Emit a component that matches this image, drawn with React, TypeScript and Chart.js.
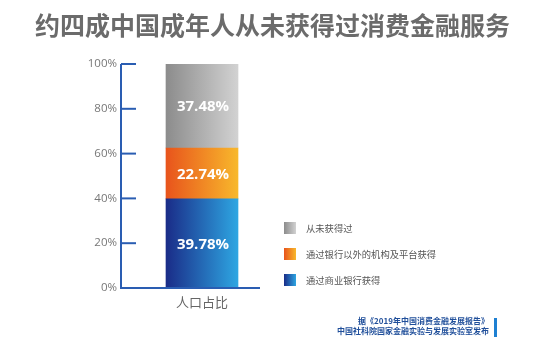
import React, { useEffect, useRef } from "react";
import { Chart, registerables } from "chart.js";

Chart.register(...registerables);

const categories = ["人口占比"];
const seriesNames = ["通过商业银行获得", "通过银行以外的机构及平台获得", "从未获得过"];
const bankValues = [39.78];
const otherValues = [22.74];
const neverValues = [37.48];
const yTicks = [0, 20, 40, 60, 80, 100];

const gradStops = [
  ["#1a2c88", "#2ea6e2"],
  ["#e8541c", "#f8b82c"],
  ["#8c8c8c", "#d2d2d2"],
];

const legendOrder = [2, 1, 0];

const CJK = '"Noto Sans CJK SC", "Noto Sans", sans-serif';

export default function App() {
  const ref = useRef<HTMLCanvasElement | null>(null);

  useEffect(() => {
    const canvas = ref.current!;
    const makeBg = (i: number) => (ctx: any) => {
      const chart = ctx.chart;
      const xs = chart.scales && chart.scales.x;
      if (!chart.chartArea || !xs) return gradStops[i][0];
      const c = xs.getPixelForValue(0);
      const g = chart.ctx.createLinearGradient(c - 36, 0, c + 36, 0);
      g.addColorStop(0, gradStops[i][0]);
      g.addColorStop(1, gradStops[i][1]);
      return g;
    };

    const axisPlugin = {
      id: "axisPlugin",
      afterDatasetsDraw(chart: any) {
        const { ctx, chartArea, scales } = chart;
        ctx.save();
        ctx.strokeStyle = "#2a5db2";
        ctx.lineWidth = 2;
        ctx.beginPath();
        ctx.moveTo(chartArea.left, chartArea.top);
        ctx.lineTo(chartArea.left, chartArea.bottom);
        ctx.lineTo(chartArea.left + 139, chartArea.bottom);
        ctx.stroke();
        yTicks.forEach((v) => {
          const y = scales.y.getPixelForValue(v);
          ctx.beginPath();
          ctx.moveTo(chartArea.left, y);
          ctx.lineTo(chartArea.left + 15, y);
          ctx.stroke();
        });
        ctx.fillStyle = "#ffffff";
        ctx.font = `bold 15px "Open Sans", ${CJK}`;
        ctx.textAlign = "center";
        ctx.textBaseline = "middle";
        chart.data.datasets.forEach((ds: any, di: number) => {
          const meta = chart.getDatasetMeta(di);
          meta.data.forEach((el: any, i: number) => {
            const p = el.getProps(["x", "y", "base"], true);
            ctx.fillText(ds.data[i].toFixed(2) + "%", p.x + 1, (p.y + p.base) / 2 + 1);
          });
        });
        ctx.restore();
      },
    };

    const chart = new Chart(canvas, {
      type: "bar",
      data: {
        labels: categories,
        datasets: [
          { label: seriesNames[0], data: bankValues, backgroundColor: makeBg(0) },
          { label: seriesNames[1], data: otherValues, backgroundColor: makeBg(1) },
          { label: seriesNames[2], data: neverValues, backgroundColor: makeBg(2) },
        ],
      },
      options: {
        responsive: false,
        animation: false,
        layout: { padding: { top: 64, left: 0, right: 267, bottom: 0 } },
        datasets: { bar: { barThickness: 72, borderWidth: 0 } },
        plugins: { legend: { display: false }, title: { display: false }, tooltip: { enabled: false } },
        scales: {
          x: {
            stacked: true,
            grid: { display: false, drawTicks: false },
            border: { display: false },
            ticks: { color: "#666", font: { family: CJK, size: 13 }, padding: 6 },
            afterFit: (s: any) => { s.height = 68; },
          },
          y: {
            stacked: true,
            min: 0,
            max: 100,
            grid: { display: false, drawTicks: false },
            border: { display: false },
            afterBuildTicks: (s: any) => { s.ticks = yTicks.map((v) => ({ value: v })); },
            ticks: {
              color: "#777",
              padding: 4,
              font: { family: '"Open Sans", sans-serif', size: 11.5 },
              callback: (v: any) => v + "%",
            },
            afterFit: (s: any) => { s.width = 121; },
          },
        },
      },
      plugins: [axisPlugin],
    });
    return () => chart.destroy();
  }, []);

  const legendTops = [222, 248, 274];

  return (
    <div style={{ position: "fixed", left: 0, top: 0, width: 550, height: 356, background: "#fff", overflow: "hidden" }}>
      <canvas ref={ref} width={550} height={356} style={{ position: "absolute", left: 0, top: 0 }} />
      <div
        style={{
          position: "absolute", left: 0, top: 10, width: 545, textAlign: "center",
          font: `bold 25px/28px ${CJK}`, color: "#6b6b6b", whiteSpace: "nowrap",
        }}
      >
        约四成中国成年人从未获得过消费金融服务
      </div>
      {legendOrder.map((si, k) => (
        <div key={si} style={{ position: "absolute", left: 284, top: legendTops[k], height: 12, display: "flex", alignItems: "center" }}>
          <div style={{ width: 12, height: 12, background: `linear-gradient(to right, ${gradStops[si][0]}, ${gradStops[si][1]})` }} />
          <div style={{ marginLeft: 10, font: `9.3px/12px ${CJK}`, color: "#555", whiteSpace: "nowrap" }}>{seriesNames[si]}</div>
        </div>
      ))}
      <div
        style={{
          position: "absolute", right: 550 - 489, top: 316, textAlign: "right",
          font: `bold 8px/10px ${CJK}`, color: "#1f4e9a", whiteSpace: "nowrap",
        }}
      >
        <div>据《2019年中国消费金融发展报告》</div>
        <div>中国社科院国家金融实验与发展实验室发布</div>
      </div>
      <div style={{ position: "absolute", left: 494, top: 318, width: 2.5, height: 19, background: "#1e80d2" }} />
    </div>
  );
}
